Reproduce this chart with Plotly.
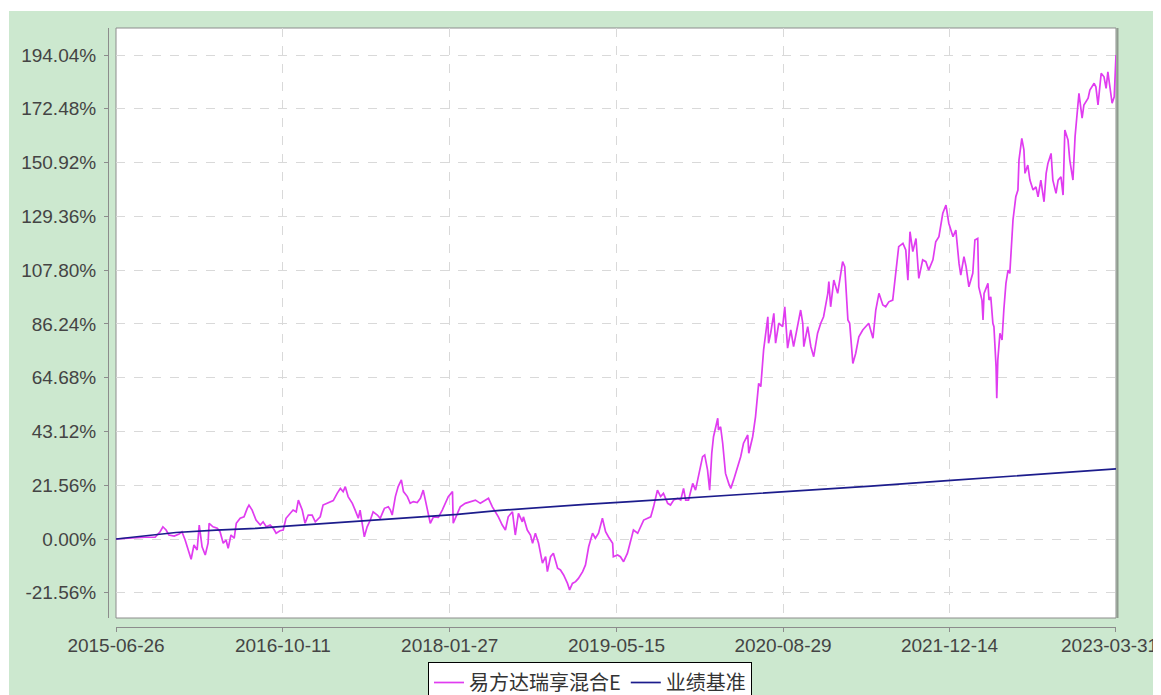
import pandas as pd
import plotly.graph_objects as go

# ---------------- data ----------------
start_date = "2015-06-26"
end_date = "2023-03-31"

fund_name = "易方达瑞享混合E"
bench_name = "业绩基准"

# fund cumulative return (%), sampled at days since inception
fund_days = [
    0, 26, 54, 82, 111, 125, 133, 142, 150, 165, 179, 187, 196, 204, 213,
    221, 230, 236, 244, 253, 261, 264, 275, 287, 295, 304, 312, 318, 326, 335,
    341, 352, 363, 372, 377, 386, 397, 409, 417, 426, 437, 446, 454, 465, 474,
    482, 494,
    502, 511, 517, 528, 536, 545, 556, 565, 579, 587, 599, 607, 616, 627, 636,
    644, 650, 658, 670, 678, 687, 692, 698, 704, 712, 721, 729, 741, 749, 761,
    772, 778, 783, 792, 800, 809, 815, 826, 834, 843, 854, 863, 871, 877, 883,
    891, 900, 914, 925, 934, 942, 954, 956, 968, 976, 990,
    1005, 1019, 1033, 1047, 1056, 1067, 1076, 1084, 1095, 1104, 1112, 1124, 1132, 1141, 1152,
    1155, 1166, 1175, 1181, 1189, 1198, 1209, 1218, 1223, 1232, 1240, 1252, 1260, 1269, 1280,
    1286, 1294, 1303, 1311, 1323, 1331, 1340, 1351, 1359, 1368, 1379, 1388, 1396, 1408, 1410,
    1422, 1430, 1439, 1450, 1459, 1467, 1479, 1487,
    1496, 1516, 1524, 1535, 1544, 1552, 1564, 1572, 1581, 1592, 1601, 1609, 1615, 1623, 1635,
    1643, 1652, 1663, 1669, 1677, 1683, 1689, 1694, 1700, 1706, 1708, 1714, 1720, 1723, 1728,
    1737, 1743, 1751, 1763, 1771, 1779, 1791, 1794, 1805, 1813, 1822, 1828, 1836, 1848, 1850,
    1856, 1865, 1870, 1879, 1890, 1896, 1904, 1913, 1921, 1933, 1941,
    1947, 1950, 1961, 1970, 1978, 1989, 1998, 2006, 2018, 2021, 2026, 2035, 2046, 2052, 2060,
    2066, 2075, 2080, 2089, 2097, 2106, 2117, 2126, 2134, 2146, 2154, 2163, 2174, 2182, 2191,
    2202, 2211, 2219, 2231, 2239, 2245, 2251, 2259, 2268, 2276, 2287, 2296, 2304, 2316, 2324,
    2333, 2344, 2353, 2361, 2373, 2381, 2390, 2395,
    2404, 2410, 2418, 2429, 2435, 2443, 2446, 2455, 2458, 2461, 2472, 2475, 2480, 2486, 2489,
    2495, 2497, 2500, 2506, 2512, 2517, 2523, 2529, 2534, 2543, 2551, 2557, 2560, 2568, 2574,
    2577, 2585, 2591, 2600, 2608, 2614, 2622, 2631, 2637, 2642, 2651, 2656, 2665, 2671, 2679,
    2685, 2690, 2699, 2704, 2713, 2719, 2724, 2730, 2739, 2744, 2756, 2761, 2773, 2778, 2784,
    2793, 2801, 2807, 2812, 2818, 2824, 2830, 2835,
]
fund_pct = [
    0.0, 0.3, 0.4, 0.7, 0.7, 2.9, 4.9, 3.6, 1.6, 1.2, 2.0, 2.9, -0.4, -3.7, -8.1,
    -2.4, -4.4, 5.6, -3.1, -6.4, -1.7, 6.3, 4.9, 4.3, 2.9, -1.7, -0.4, -3.7, 1.6, 0.3,
    6.3, 8.3, 8.9, 12.3, 13.6, 11.6, 7.6, 5.6, 6.9, 4.9, 5.6, 4.3, 2.3, 3.3, 3.6,
    8.3, 10.3,
    11.6, 10.9, 15.6, 11.6, 6.3, 9.6, 9.6, 6.9, 8.9, 13.6, 14.3, 14.6, 15.4, 18.3, 20.3,
    19.0, 21.0, 17.0, 14.3, 11.6, 8.3, 11.6, 6.3, 0.9, 4.9, 7.6, 10.9, 9.6, 8.3, 12.3,
    12.9, 11.6, 9.6, 17.0, 21.0, 23.7, 19.0, 17.0, 14.3, 15.0, 14.6, 16.3, 19.6, 15.6, 10.3,
    6.3, 8.9, 8.7, 11.6, 14.3, 17.0, 19.0, 6.3, 10.3, 12.9, 14.3,
    15.0, 15.6, 14.3, 15.6, 16.3, 12.9, 10.9, 8.9, 5.6, 3.6, 8.9, 10.9, 1.6, 10.3, 6.9,
    8.9, 3.6, 1.6, -1.7, 2.3, -1.7, -9.7, -7.1, -13.1, -7.1, -5.7, -11.7, -12.4, -14.4, -17.8,
    -20.4, -17.8, -17.1, -15.8, -13.1, -10.4, -3.1, 2.3, 0.3, 2.3, 8.3, 2.9, 0.9, -1.7, -7.1,
    -6.4, -7.1, -9.1, -5.7, -0.4, 3.6, 2.3, 4.9,
    7.6, 8.9, 12.9, 19.6, 17.0, 18.3, 14.3, 13.6, 15.6, 16.3, 15.6, 20.3, 15.6, 15.6, 22.3,
    19.6, 26.3, 33.0, 33.7, 27.7, 19.6, 34.4, 41.0, 44.4, 48.4, 43.7, 45.0, 38.4, 33.0, 26.3,
    22.3, 20.3, 23.7, 29.0, 33.0, 38.4, 41.7, 34.4, 41.0, 49.0, 62.4, 61.1, 75.8, 89.1, 78.5,
    82.5, 90.5, 78.5, 86.5, 85.1, 93.1, 76.5, 83.8, 77.1, 85.1, 91.8,
    86.5, 77.1, 85.1, 77.1, 73.1, 82.5, 86.5, 89.1, 98.5, 103.2, 93.1, 103.8, 98.5, 104.5, 111.2,
    109.2, 87.8, 86.5, 70.4, 74.4, 81.1, 83.8, 85.1, 86.5, 80.5, 91.8, 98.5, 93.8, 93.1, 95.1,
    95.8, 106.5, 117.2, 118.5, 115.9, 103.8, 123.2, 115.2, 120.5, 104.5, 111.9, 111.2, 107.8, 111.9, 119.2,
    121.2, 130.6, 133.9, 126.6, 121.2, 123.9, 110.5, 105.8,
    113.2, 109.2, 101.1, 106.5, 119.9, 120.5, 101.1, 95.8, 87.8, 98.5, 102.5, 95.8, 97.1, 86.5, 85.1,
    69.1, 56.4, 71.8, 82.5, 79.8, 91.8, 102.5, 107.8, 106.5, 127.9, 137.2, 139.9, 151.9, 160.6, 156.0,
    146.6, 149.9, 143.9, 139.9, 141.2, 137.2, 143.9, 135.2, 146.6, 150.6, 154.6, 143.9, 138.6, 143.9, 145.2,
    137.9, 164.0, 160.0, 151.9, 143.9, 161.3, 170.0, 178.7, 168.7, 174.0, 176.7, 180.0, 182.7, 181.3, 174.0,
    186.7, 185.3, 180.7, 187.3, 181.3, 174.7, 177.3, 194.04,
]

# benchmark cumulative return (%)
bench_days = [0, 51, 108, 170, 284, 397, 494, 599, 658, 778, 843, 968, 1081, 1212,
              1331, 1459, 1638, 1819, 1941, 2140, 2367, 2594, 2835]
bench_pct = [0.0, 0.8, 1.6, 2.6, 3.6, 4.3, 5.3, 6.3, 7.0, 8.0, 8.9, 9.9, 11.4, 12.8,
             13.9, 15.0, 16.6, 18.4, 19.3, 21.2, 23.5, 25.8, 28.1]

x_tick_labels = ["2015-06-26", "2016-10-11", "2018-01-27", "2019-05-15",
                 "2020-08-29", "2021-12-14", "2023-03-31"]
y_tick_vals = [-21.56, 0.0, 21.56, 43.12, 64.68, 86.24, 107.80, 129.36, 150.92, 172.48, 194.04]
y_tick_labels = ["-21.56%", "0.00%", "21.56%", "43.12%", "64.68%", "86.24%",
                 "107.80%", "129.36%", "150.92%", "172.48%", "194.04%"]

# ---------------- build ----------------
t0 = pd.Timestamp(start_date)
fund_dates = t0 + pd.to_timedelta(fund_days, unit="D")
bench_dates = t0 + pd.to_timedelta(bench_days, unit="D")

# page has an 8px body margin, so the figure is 8px smaller than the window
W, H = 1153, 687
ML, MR, MT, MB = 100, 45, 20, 68
pw, ph = W - ML - MR, H - MT - MB
xdom0 = 8 / pw
ydom0 = 9 / ph

GREEN = "#cce8cf"
tickfont = dict(family="Liberation Sans, Arial, sans-serif", size=19, color="#444444")

# last x label would overflow the page edge: draw it right-aligned to the edge instead
x_ticktext = x_tick_labels[:-1] + [""]

fig = go.Figure()
fig.add_trace(go.Scatter(x=fund_dates, y=fund_pct, mode="lines", name=fund_name,
                         line=dict(color="#e03cf0", width=1.7)))
fig.add_trace(go.Scatter(x=bench_dates, y=bench_pct, mode="lines", name=bench_name,
                         line=dict(color="#1c1c8c", width=1.7)))

fig.update_layout(
    width=W, height=H,
    margin=dict(l=ML, r=MR, t=MT, b=MB, autoexpand=False),
    paper_bgcolor="white",
    plot_bgcolor="rgba(0,0,0,0)",
    showlegend=True,
    legend=dict(
        orientation="h",
        x=(582 - ML) / pw, xanchor="center",
        y=(MT + ph - 654) / ph, yanchor="top",
        bgcolor="white", bordercolor="#000000", borderwidth=1,
        font=dict(family="Noto Sans CJK SC, sans-serif", size=20, color="#333333"),
        itemwidth=30,
    ),
    xaxis=dict(
        type="date", domain=[xdom0, 1], anchor="free", position=0,
        range=[start_date, end_date + " 01:00"],
        tickvals=x_tick_labels, ticktext=x_ticktext,
        showgrid=True, gridcolor="#d9d9d9", griddash="dash", gridwidth=1,
        showline=True, linecolor="#8c8c8c", linewidth=1,
        ticks="outside", ticklen=4, tickcolor="#8c8c8c",
        ticklabelstandoff=-3,
        zeroline=False, tickfont=tickfont,
    ),
    yaxis=dict(
        domain=[ydom0, 1], anchor="free", position=0,
        range=[-31.67, 204.87],
        tickvals=y_tick_vals, ticktext=y_tick_labels,
        showgrid=True, gridcolor="#d9d9d9", griddash="dash", gridwidth=1,
        showline=True, linecolor="#8c8c8c", linewidth=1,
        ticks="outside", ticklen=4, tickcolor="#8c8c8c",
        ticklabelstandoff=4,
        zeroline=False, tickfont=tickfont,
    ),
    annotations=[
        dict(text=x_tick_labels[-1], xref="paper", yref="paper",
             x=(W - ML) / pw, xanchor="right", y=-18 / ph, yanchor="middle",
             showarrow=False, font=tickfont, xshift=-1),
    ],
    shapes=[
        dict(type="rect", xref="paper", yref="paper", layer="below",
             x0=(1 - ML) / pw, x1=1.2, y0=-0.3, y1=(MT + ph - 3) / ph,
             fillcolor=GREEN, line=dict(width=0)),
        dict(type="rect", xref="x domain", yref="y domain", layer="below",
             x0=0, x1=1, y0=0, y1=1,
             fillcolor="white", line=dict(color="#8c8c8c", width=1)),
        dict(type="line", xref="paper", yref="y domain", layer="above",
             x0=1 + 1.5 / pw, x1=1 + 1.5 / pw, y0=0, y1=1,
             line=dict(color="#8f9a8f", width=2)),
    ],
)

fig.write_html("out.html")
